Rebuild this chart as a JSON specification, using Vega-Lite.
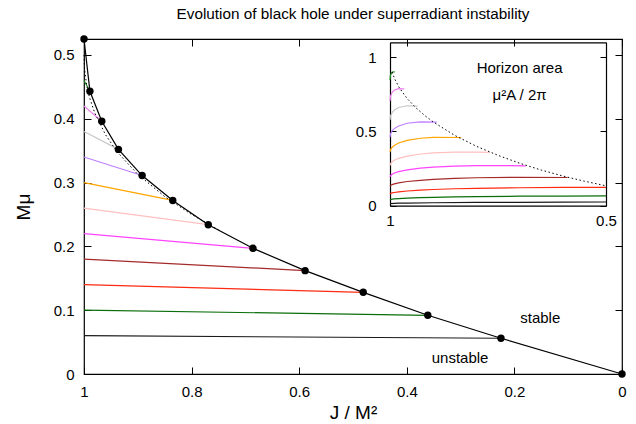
{
  "$schema": "https://vega.github.io/schema/vega-lite/v6.json",
  "width": 538,
  "height": 335,
  "autosize": {"type": "none"},
  "padding": {"left": 84, "top": 39, "right": 14, "bottom": 50},
  "background": "white",
  "title": {
    "text": "Evolution of black hole under superradiant instability",
    "font": "Liberation Sans",
    "fontSize": 15.3,
    "fontWeight": "normal",
    "color": "black",
    "anchor": "middle",
    "offset": 13
  },
  "config": {
    "view": {"stroke": "black", "strokeWidth": 1.2},
    "axis": {
      "grid": false,
      "labelFont": "Liberation Sans",
      "labelFontSize": 15,
      "labelColor": "black",
      "tickColor": "black",
      "tickWidth": 1,
      "domainColor": "black",
      "domainWidth": 1.2,
      "titleFont": "Liberation Sans",
      "titleFontWeight": "normal",
      "titleColor": "black",
      "labelFlush": false,
      "labelOverlap": false,
      "labelBound": false
    }
  },
  "datasets": {
    "tracks": [
      {"s": "0.06", "J": 1, "M": 0.06}, {"s": "0.06", "J": 0.225, "M": 0.056},
      {"s": "0.10", "J": 1, "M": 0.10}, {"s": "0.10", "J": 0.361, "M": 0.092},
      {"s": "0.14", "J": 1, "M": 0.14}, {"s": "0.14", "J": 0.481, "M": 0.128},
      {"s": "0.18", "J": 1, "M": 0.18}, {"s": "0.18", "J": 0.589, "M": 0.162},
      {"s": "0.22", "J": 1, "M": 0.22}, {"s": "0.22", "J": 0.686, "M": 0.197},
      {"s": "0.26", "J": 1, "M": 0.26}, {"s": "0.26", "J": 0.769, "M": 0.234},
      {"s": "0.30", "J": 1, "M": 0.30}, {"s": "0.30", "J": 0.835, "M": 0.272},
      {"s": "0.34", "J": 1, "M": 0.34}, {"s": "0.34", "J": 0.892, "M": 0.311},
      {"s": "0.38", "J": 1, "M": 0.38}, {"s": "0.38", "J": 0.936, "M": 0.352},
      {"s": "0.42", "J": 1, "M": 0.42}, {"s": "0.42", "J": 0.967, "M": 0.396},
      {"s": "0.46", "J": 1, "M": 0.46}, {"s": "0.46", "J": 0.989, "M": 0.443}
    ],
    "boundary": [
      {"J": 1, "M": 0.525}, {"J": 0.989, "M": 0.443}, {"J": 0.967, "M": 0.396},
      {"J": 0.936, "M": 0.352}, {"J": 0.892, "M": 0.311}, {"J": 0.835, "M": 0.272},
      {"J": 0.769, "M": 0.234}, {"J": 0.686, "M": 0.197}, {"J": 0.589, "M": 0.162},
      {"J": 0.481, "M": 0.128}, {"J": 0.361, "M": 0.092}, {"J": 0.225, "M": 0.056},
      {"J": 0, "M": 0}
    ],
    "curve": [
      {"J": 1, "M": 0.5}, {"J": 0.999, "M": 0.478}, {"J": 0.995, "M": 0.452},
      {"J": 0.99, "M": 0.434}, {"J": 0.98, "M": 0.409}, {"J": 0.96, "M": 0.375},
      {"J": 0.94, "M": 0.350}, {"J": 0.92, "M": 0.331}, {"J": 0.9, "M": 0.313},
      {"J": 0.85, "M": 0.278}, {"J": 0.8, "M": 0.250}, {"J": 0.75, "M": 0.226}
    ],
    "notes": [
      {"J": 0.152, "M": 0.088, "label": "stable"},
      {"J": 0.301, "M": 0.025, "label": "unstable"}
    ],
    "area": [
      {"s": "0.46", "J": 1, "A": 0.846}, {"s": "0.46", "J": 0.999, "A": 0.878}, {"s": "0.46", "J": 0.995, "A": 0.900}, {"s": "0.46", "J": 0.989, "A": 0.901},
      {"s": "0.42", "J": 1, "A": 0.706}, {"s": "0.42", "J": 0.999, "A": 0.735}, {"s": "0.42", "J": 0.995, "A": 0.763}, {"s": "0.42", "J": 0.99, "A": 0.778}, {"s": "0.42", "J": 0.98, "A": 0.788}, {"s": "0.42", "J": 0.967, "A": 0.787},
      {"s": "0.38", "J": 1, "A": 0.578}, {"s": "0.38", "J": 0.999, "A": 0.602}, {"s": "0.38", "J": 0.995, "A": 0.628}, {"s": "0.38", "J": 0.99, "A": 0.644}, {"s": "0.38", "J": 0.98, "A": 0.661}, {"s": "0.38", "J": 0.96, "A": 0.673}, {"s": "0.38", "J": 0.936, "A": 0.670},
      {"s": "0.34", "J": 1, "A": 0.462}, {"s": "0.34", "J": 0.999, "A": 0.482}, {"s": "0.34", "J": 0.995, "A": 0.505}, {"s": "0.34", "J": 0.99, "A": 0.519}, {"s": "0.34", "J": 0.98, "A": 0.537}, {"s": "0.34", "J": 0.96, "A": 0.555}, {"s": "0.34", "J": 0.93, "A": 0.564}, {"s": "0.34", "J": 0.892, "A": 0.562},
      {"s": "0.30", "J": 1, "A": 0.360}, {"s": "0.30", "J": 0.999, "A": 0.376}, {"s": "0.30", "J": 0.995, "A": 0.394}, {"s": "0.30", "J": 0.99, "A": 0.406}, {"s": "0.30", "J": 0.98, "A": 0.422}, {"s": "0.30", "J": 0.96, "A": 0.440}, {"s": "0.30", "J": 0.93, "A": 0.454}, {"s": "0.30", "J": 0.9, "A": 0.460}, {"s": "0.30", "J": 0.835, "A": 0.459},
      {"s": "0.26", "J": 1, "A": 0.270}, {"s": "0.26", "J": 0.999, "A": 0.282}, {"s": "0.26", "J": 0.995, "A": 0.296}, {"s": "0.26", "J": 0.99, "A": 0.306}, {"s": "0.26", "J": 0.98, "A": 0.319}, {"s": "0.26", "J": 0.96, "A": 0.334}, {"s": "0.26", "J": 0.93, "A": 0.348}, {"s": "0.26", "J": 0.9, "A": 0.355}, {"s": "0.26", "J": 0.85, "A": 0.361}, {"s": "0.26", "J": 0.8, "A": 0.361}, {"s": "0.26", "J": 0.769, "A": 0.359},
      {"s": "0.22", "J": 1, "A": 0.194}, {"s": "0.22", "J": 0.999, "A": 0.202}, {"s": "0.22", "J": 0.995, "A": 0.212}, {"s": "0.22", "J": 0.99, "A": 0.220}, {"s": "0.22", "J": 0.98, "A": 0.229}, {"s": "0.22", "J": 0.96, "A": 0.241}, {"s": "0.22", "J": 0.93, "A": 0.253}, {"s": "0.22", "J": 0.9, "A": 0.260}, {"s": "0.22", "J": 0.85, "A": 0.267}, {"s": "0.22", "J": 0.8, "A": 0.270}, {"s": "0.22", "J": 0.75, "A": 0.270}, {"s": "0.22", "J": 0.686, "A": 0.268},
      {"s": "0.18", "J": 1, "A": 0.130}, {"s": "0.18", "J": 0.999, "A": 0.135}, {"s": "0.18", "J": 0.995, "A": 0.142}, {"s": "0.18", "J": 0.99, "A": 0.147}, {"s": "0.18", "J": 0.98, "A": 0.154}, {"s": "0.18", "J": 0.96, "A": 0.163}, {"s": "0.18", "J": 0.93, "A": 0.171}, {"s": "0.18", "J": 0.9, "A": 0.177}, {"s": "0.18", "J": 0.85, "A": 0.184}, {"s": "0.18", "J": 0.8, "A": 0.188}, {"s": "0.18", "J": 0.7, "A": 0.191}, {"s": "0.18", "J": 0.589, "A": 0.190},
      {"s": "0.14", "J": 1, "A": 0.078}, {"s": "0.14", "J": 0.999, "A": 0.082}, {"s": "0.14", "J": 0.995, "A": 0.086}, {"s": "0.14", "J": 0.99, "A": 0.089}, {"s": "0.14", "J": 0.98, "A": 0.093}, {"s": "0.14", "J": 0.96, "A": 0.099}, {"s": "0.14", "J": 0.93, "A": 0.105}, {"s": "0.14", "J": 0.9, "A": 0.109}, {"s": "0.14", "J": 0.85, "A": 0.114}, {"s": "0.14", "J": 0.8, "A": 0.117}, {"s": "0.14", "J": 0.7, "A": 0.121}, {"s": "0.14", "J": 0.6, "A": 0.123}, {"s": "0.14", "J": 0.5, "A": 0.123},
      {"s": "0.10", "J": 1, "A": 0.040}, {"s": "0.10", "J": 0.995, "A": 0.044}, {"s": "0.10", "J": 0.99, "A": 0.046}, {"s": "0.10", "J": 0.98, "A": 0.048}, {"s": "0.10", "J": 0.96, "A": 0.051}, {"s": "0.10", "J": 0.93, "A": 0.054}, {"s": "0.10", "J": 0.9, "A": 0.056}, {"s": "0.10", "J": 0.85, "A": 0.059}, {"s": "0.10", "J": 0.8, "A": 0.061}, {"s": "0.10", "J": 0.7, "A": 0.064}, {"s": "0.10", "J": 0.6, "A": 0.065}, {"s": "0.10", "J": 0.5, "A": 0.066},
      {"s": "0.06", "J": 1, "A": 0.014}, {"s": "0.06", "J": 0.98, "A": 0.017}, {"s": "0.06", "J": 0.96, "A": 0.018}, {"s": "0.06", "J": 0.9, "A": 0.020}, {"s": "0.06", "J": 0.8, "A": 0.022}, {"s": "0.06", "J": 0.7, "A": 0.023}, {"s": "0.06", "J": 0.6, "A": 0.024}, {"s": "0.06", "J": 0.5, "A": 0.025}
    ],
    "areaEdge": [
      {"J": 0.995, "A": 0.900}, {"J": 0.99, "A": 0.859}, {"J": 0.98, "A": 0.801},
      {"J": 0.96, "A": 0.720}, {"J": 0.94, "A": 0.659}, {"J": 0.92, "A": 0.608},
      {"J": 0.9, "A": 0.564}, {"J": 0.85, "A": 0.473}, {"J": 0.8, "A": 0.400},
      {"J": 0.75, "A": 0.339}, {"J": 0.7, "A": 0.286}, {"J": 0.65, "A": 0.240},
      {"J": 0.6, "A": 0.200}, {"J": 0.55, "A": 0.165}, {"J": 0.5, "A": 0.134}
    ],
    "insetNotes": [
      {"J": 0.70, "A": 0.928, "label": "Horizon area"},
      {"J": 0.70, "A": 0.748, "label": "μ²A / 2π"}
    ]
  },
  "layer": [
    {
      "encoding": {
        "x": {
          "field": "J", "type": "quantitative",
          "scale": {"domain": [0, 1], "reverse": true, "nice": false},
          "axis": {
            "orient": "bottom", "values": [1, 0.8, 0.6, 0.4, 0.2, 0], "format": "~g",
            "domain": false, "tickSize": -7, "labelPadding": 17,
            "title": "J / M²", "titleFontSize": 19, "titlePadding": 4
          }
        },
        "y": {
          "field": "M", "type": "quantitative",
          "scale": {"domain": [0, 0.525], "nice": false},
          "axis": {
            "orient": "left", "values": [0, 0.1, 0.2, 0.3, 0.4, 0.5], "format": "~g",
            "domain": false, "tickSize": -7, "labelPadding": 17,
            "title": "Mμ", "titleFontSize": 19, "titlePadding": 20
          }
        }
      },
      "layer": [
        {
          "data": {"name": "tracks"},
          "mark": {"type": "line", "strokeWidth": 1.2},
          "encoding": {
            "color": {
              "field": "s", "type": "nominal", "legend": null,
              "scale": {
                "domain": ["0.06", "0.10", "0.14", "0.18", "0.22", "0.26", "0.30", "0.34", "0.38", "0.42", "0.46"],
                "range": ["#1a1a1a", "#0a6e0a", "#ff2a10", "#a52a2a", "#ff44ff", "#ffc0c0", "#ffa500", "#c080ff", "#c8c8c8", "#ee82ee", "#228b22"]
              }
            }
          }
        },
        {
          "data": {"name": "curve"},
          "mark": {"type": "line", "color": "black", "strokeWidth": 1, "strokeDash": [1.5, 2.5]}
        },
        {
          "data": {"name": "boundary"},
          "mark": {"type": "line", "color": "black", "strokeWidth": 1.2}
        },
        {
          "data": {"name": "boundary"},
          "mark": {"type": "point", "filled": true, "color": "black", "opacity": 1, "size": 55}
        },
        {
          "data": {"name": "notes"},
          "mark": {"type": "text", "font": "Liberation Sans", "fontSize": 15, "color": "black"},
          "encoding": {"text": {"field": "label"}}
        }
      ]
    },
    {
      "data": {"name": "boundary"},
      "mark": {"type": "point", "opacity": 0},
      "encoding": {
        "x": {
          "field": "J", "type": "quantitative",
          "scale": {"domain": [0, 1], "reverse": true, "nice": false},
          "axis": {"orient": "top", "values": [1, 0.8, 0.6, 0.4, 0.2, 0], "labels": false, "domain": false, "tickSize": -7, "title": null}
        },
        "y": {
          "field": "M", "type": "quantitative",
          "scale": {"domain": [0, 0.525], "nice": false},
          "axis": {"orient": "right", "values": [0, 0.1, 0.2, 0.3, 0.4, 0.5], "labels": false, "domain": false, "tickSize": -7, "title": null}
        }
      }
    },
    {
      "encoding": {
        "x": {
          "field": "J", "type": "quantitative",
          "scale": {"domain": [0.5, 1], "range": [522, 306], "nice": false, "zero": false},
          "axis": {
            "orient": "bottom", "offset": -168.3, "values": [1, 0.5], "format": "~g",
            "domain": true, "tickSize": -6, "labelPadding": 14, "title": null
          }
        },
        "y": {
          "field": "A", "type": "quantitative",
          "scale": {"domain": [0, 1.1], "range": [166.7, 3.3], "nice": false},
          "axis": {
            "orient": "left", "offset": -306, "values": [0, 0.5, 1], "format": "~g",
            "domain": true, "tickSize": -6, "labelPadding": 20, "title": null
          }
        }
      },
      "layer": [
        {
          "data": {"name": "area"},
          "mark": {"type": "line", "strokeWidth": 1.2},
          "encoding": {
            "color": {
              "field": "s", "type": "nominal", "legend": null,
              "scale": {
                "domain": ["0.06", "0.10", "0.14", "0.18", "0.22", "0.26", "0.30", "0.34", "0.38", "0.42", "0.46"],
                "range": ["#1a1a1a", "#0a6e0a", "#ff2a10", "#a52a2a", "#ff44ff", "#ffc0c0", "#ffa500", "#c080ff", "#c8c8c8", "#ee82ee", "#228b22"]
              }
            }
          }
        },
        {
          "data": {"name": "areaEdge"},
          "mark": {"type": "line", "color": "black", "strokeWidth": 1, "strokeDash": [1.5, 2.5]}
        },
        {
          "data": {"name": "insetNotes"},
          "mark": {"type": "text", "font": "Liberation Sans", "fontSize": 15, "color": "black"},
          "encoding": {"text": {"field": "label"}}
        }
      ]
    },
    {
      "data": {"name": "areaEdge"},
      "mark": {"type": "point", "opacity": 0},
      "encoding": {
        "x": {
          "field": "J", "type": "quantitative",
          "scale": {"domain": [0.5, 1], "range": [522, 306], "nice": false, "zero": false},
          "axis": {"orient": "top", "offset": -3.3, "values": [1, 0.5], "labels": false, "domain": true, "tickSize": -6, "title": null}
        },
        "y": {
          "field": "A", "type": "quantitative",
          "scale": {"domain": [0, 1.1], "range": [166.7, 3.3], "nice": false},
          "axis": {"orient": "right", "offset": -16, "values": [0, 0.5, 1], "labels": false, "domain": true, "tickSize": -6, "title": null}
        }
      }
    }
  ],
  "resolve": {
    "scale": {"x": "independent", "y": "independent", "color": "shared"},
    "axis": {"x": "independent", "y": "independent"}
  }
}
